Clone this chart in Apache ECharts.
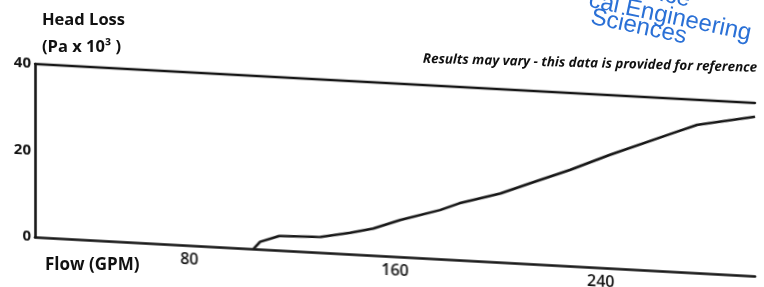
<!DOCTYPE html>
<html>
<head>
<meta charset="utf-8">
<script src="https://cdn.jsdelivr.net/npm/echarts@6/dist/echarts.min.js"></script>
<style>
  html, body { margin: 0; padding: 0; background: #fff; overflow: hidden; }
  #wrap { position: relative; width: 764px; height: 287px; overflow: hidden; }
  /* the scanned sheet is sheared: horizontal lines drop ~3 deg to the right */
  #plot { position: absolute; left: 0; top: 0; width: 764px; height: 287px;
          transform: skewY(3.1deg); transform-origin: 35px 237px; }
  #notes { position: absolute; left: 0; top: 0; width: 764px; height: 287px; pointer-events: none; }
</style>
</head>
<body>
<div id="wrap">
  <div id="plot"></div>
  <div id="notes"></div>
</div>
<script>
// flow (GPM) / head loss (Pa x 10^3)
var flowGpm  = [105, 107.5, 115, 131, 142.5, 151.5, 162, 177.5, 185, 201, 212.5, 228, 243.5, 268, 277.5, 300];
var headLoss = [0, 1.7, 3.3, 3.6, 4.9, 6.2, 8.5, 11.3, 13.1, 15.9, 18.6, 22.2, 26.2, 32, 34.2, 36.8];
var flowTicks = [80, 160, 240];
var headTicks = [0, 20, 40];

var ink = "#161616";
var font = "'Open Sans', 'DejaVu Sans', sans-serif";

var plot = echarts.init(document.getElementById("plot"));
plot.setOption({
  backgroundColor: "transparent",
  animation: false,
  grid: { left: 35, right: 9, top: 64, bottom: 50 },
  xAxis: [
    {
      type: "value",
      min: 20,
      max: 300,
      position: "bottom",
      axisLine: { onZero: false, lineStyle: { color: ink, width: 2.6 } },
      axisTick: { show: false },
      splitLine: { show: false },
      axisLabel: {
        customValues: flowTicks,
        margin: 6,
        color: "#111",
        fontFamily: font,
        fontSize: 16,
        fontWeight: 600
      }
    },
    {
      // top border of the plot box
      type: "value",
      min: 20,
      max: 300,
      position: "top",
      axisLine: { show: true, onZero: false, lineStyle: { color: ink, width: 2.3 } },
      axisTick: { show: false },
      axisLabel: { show: false },
      splitLine: { show: false }
    }
  ],
  yAxis: {
    type: "value",
    min: 0,
    max: 40,
    axisLine: { show: true, onZero: false, lineStyle: { color: ink, width: 2.6 } },
    axisTick: { show: false },
    splitLine: { show: false },
    axisLabel: {
      customValues: headTicks,
      margin: 4,
      color: "#111",
      fontFamily: font,
      fontSize: 15,
      fontWeight: "bold"
    }
  },
  series: [
    {
      type: "line",
      xAxisIndex: 0,
      data: flowGpm.map(function (f, i) { return [f, headLoss[i]]; }),
      showSymbol: false,
      smooth: false,
      lineStyle: { color: ink, width: 2.6 }
    }
  ]
});

// texts printed flat on the page (not sheared), plus the cut-off watermark
function note(text, x, y, slope, align, style) {
  return {
    type: "text",
    x: x,
    y: y,
    rotation: -Math.atan(slope),
    style: Object.assign({
      text: text,
      textAlign: align,
      textVerticalAlign: "middle",
      verticalAlign: "middle",
      fill: "#111",
      font: "bold 16.5px " + font
    }, style || {})
  };
}

var blue = "#2a70d6";
var wmFont = "24px 'Liberation Sans', Arial, sans-serif";

var notes = echarts.init(document.getElementById("notes"));
notes.setOption({
  backgroundColor: "transparent",
  animation: false,
  graphic: [
    note("Head Loss", 42, 20, 0, "left"),
    note("(Pa x 10³ )", 42, 47, 0, "left"),
    note("Flow (GPM)", 45, 265, 0, "left", { font: "bold 17px " + font }),
    note("Results may vary - this data is provided for reference", 757, 68, 0.027, "right",
      { font: "italic bold 13.4px " + font }),
    note("ice", 660, -6, 0.21, "left", { fill: blue, font: wmFont }),
    note("cal Engineering", 589, 0, 0.21, "left", { fill: blue, font: wmFont }),
    note("Sciences", 591, 17, 0.21, "left", { fill: blue, font: wmFont })
  ]
});
</script>
</body>
</html>
